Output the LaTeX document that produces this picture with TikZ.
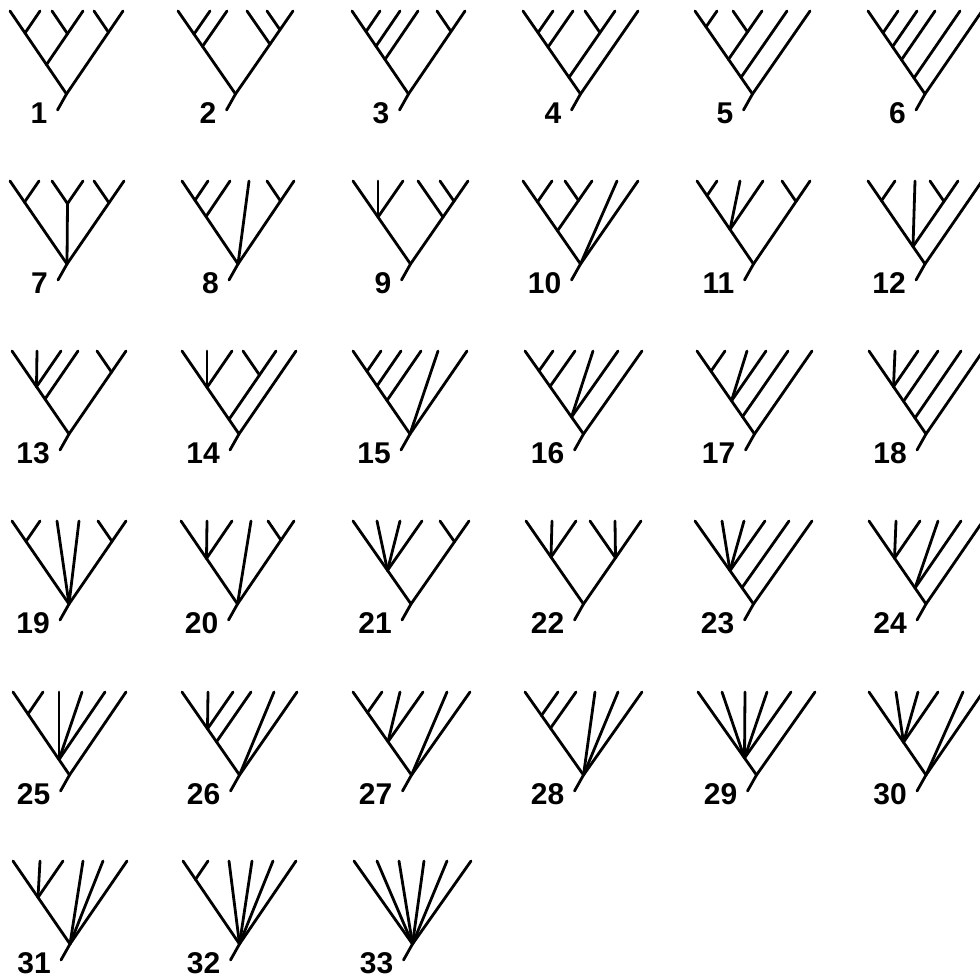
\documentclass[tikz,border=0pt]{standalone}
\usepackage{fontspec}
\setmainfont{Liberation Sans}
\usetikzlibrary{calc}
\begin{document}
\begin{tikzpicture}[x=1pt,y=-1pt,
  br/.style={line width=2.8pt,line cap=round,black},
  lab/.style={font=\bfseries\fontsize{30}{30}\selectfont,inner sep=0pt,anchor=east}]
\fill[white] (0,0) rectangle (980,978);
\useasboundingbox (0,0) rectangle (980,978);
\newcommand\Tset[3]{\def\tn{#1}\def\tx{#2}\def\ty{#3}}
\newcommand\Lv[6]{\def\xa{#1}\def\xb{#2}\def\xc{#3}\def\xd{#4}\def\xe{#5}\def\xf{#6}%
  \pgfmathsetmacro\kk{166/#6}%
  \foreach \nn/\vv in {a/#1,b/#2,c/#3,d/#4,e/#5,f/#6}{\coordinate (t\tn\nn) at (\tx+\vv,\ty);}}
\newcommand\nd[3]{\coordinate (t\tn#1) at ({\tx+(\csname x#2\endcsname+\csname x#3\endcsname)/2},{\ty+(\csname x#3\endcsname-\csname x#2\endcsname)*\kk/2});}
\newcommand\Ed[1]{\foreach \cc/\pp in {#1}{\draw[br] (t\tn\cc) -- (t\tn\pp);}}
\newcommand\St{\draw[br] (t\tn r) -- ++(-9,16) coordinate (t\tn s);
  \node[lab] (t\tn l) at ($(t\tn s)+(-10,3)$) {\tn};}
% row 1
\Tset{1}{10}{11}\Lv{0}{30}{42}{73}{84}{113}
\nd{ab}{a}{b}\nd{cd}{c}{d}\nd{ad}{a}{d}\nd{ef}{e}{f}\nd{r}{a}{f}
\Ed{a/ab,b/ab,c/cd,d/cd,ab/ad,cd/ad,e/ef,f/ef,ad/r,ef/r}\St
\Tset{2}{178}{11}\Lv{0}{32}{49}{69}{89}{115}
\nd{ab}{a}{b}\nd{ac}{a}{c}\nd{ef}{e}{f}\nd{df}{d}{f}\nd{r}{a}{f}
\Ed{a/ab,b/ab,ab/ac,c/ac,ac/r,e/ef,f/ef,d/df,ef/df,df/r}\St
\Tset{3}{352}{11}\Lv{0}{28}{48}{66}{85}{113}
\nd{ab}{a}{b}\nd{ac}{a}{c}\nd{ad}{a}{d}\nd{ef}{e}{f}\nd{r}{a}{f}
\Ed{a/ab,b/ab,ab/ac,c/ac,ac/ad,d/ad,ad/r,e/ef,f/ef,ef/r}\St
\Tset{4}{523}{11}\Lv{0}{30}{50}{62}{92}{115}
\nd{ab}{a}{b}\nd{ac}{a}{c}\nd{de}{d}{e}\nd{ae}{a}{e}\nd{r}{a}{f}
\Ed{a/ab,b/ab,ab/ac,c/ac,d/de,e/de,ac/ae,de/ae,ae/r,f/r}\St
\Tset{5}{695}{11}\Lv{0}{22}{38}{67}{92}{115}
\nd{ab}{a}{b}\nd{cd}{c}{d}\nd{ad}{a}{d}\nd{ae}{a}{e}\nd{r}{a}{f}
\Ed{a/ab,b/ab,c/cd,d/cd,ab/ad,cd/ad,ad/ae,e/ae,ae/r,f/r}\St
\Tset{6}{868}{11}\Lv{0}{30}{49}{67}{92}{114}
\nd{ab}{a}{b}\nd{ac}{a}{c}\nd{ad}{a}{d}\nd{ae}{a}{e}\nd{r}{a}{f}
\Ed{a/ab,b/ab,ab/ac,c/ac,ac/ad,d/ad,ad/ae,e/ae,ae/r,f/r}\St
% row 2
\Tset{7}{10}{181}\Lv{0}{29}{42}{73}{84}{114}
\nd{ab}{a}{b}\nd{cd}{c}{d}\nd{ef}{e}{f}\nd{r}{a}{f}
\Ed{a/ab,b/ab,c/cd,d/cd,e/ef,f/ef,ab/r,cd/r,ef/r}\St
\Tset{8}{182}{181}\Lv{0}{26}{48}{67}{85}{112}
\nd{ab}{a}{b}\nd{ac}{a}{c}\nd{ef}{e}{f}\nd{r}{a}{f}
\Ed{a/ab,b/ab,ab/ac,c/ac,ac/r,d/r,e/ef,f/ef,ef/r}\St
\Tset{9}{353}{181}\Lv{0}{25}{50}{65}{87}{115}
\nd{ac}{a}{c}\nd{ef}{e}{f}\nd{df}{d}{f}\nd{r}{a}{f}
\Ed{a/ac,b/ac,c/ac,e/ef,f/ef,d/df,ef/df,ac/r,df/r}\St
\Tset{10}{523}{181}\Lv{0}{29}{42}{69}{94}{115}
\nd{ab}{a}{b}\nd{cd}{c}{d}\nd{ad}{a}{d}\nd{r}{a}{f}
\Ed{a/ab,b/ab,c/cd,d/cd,ab/ad,cd/ad,ad/r,e/r,f/r}\St
\Tset{11}{697}{181}\Lv{0}{20}{43}{66}{85}{113}
\nd{ab}{a}{b}\nd{ad}{a}{d}\nd{ef}{e}{f}\nd{r}{a}{f}
\Ed{a/ab,b/ab,ab/ad,c/ad,d/ad,ad/r,e/ef,f/ef,ef/r}\St
\Tset{12}{868}{181}\Lv{0}{27}{47}{62}{90}{114}
\nd{ab}{a}{b}\nd{de}{d}{e}\nd{ae}{a}{e}\nd{r}{a}{f}
\Ed{a/ab,b/ab,d/de,e/de,ab/ae,c/ae,de/ae,ae/r,f/r}\St
% row 3
\Tset{13}{12}{351}\Lv{0}{25}{49}{66}{85}{114}
\nd{ac}{a}{c}\nd{ad}{a}{d}\nd{ef}{e}{f}\nd{r}{a}{f}
\Ed{a/ac,b/ac,c/ac,ac/ad,d/ad,ad/r,e/ef,f/ef,ef/r}\St
\Tset{14}{182}{351}\Lv{0}{25}{50}{61}{94}{114}
\nd{ac}{a}{c}\nd{de}{d}{e}\nd{ae}{a}{e}\nd{r}{a}{f}
\Ed{a/ac,b/ac,c/ac,d/de,e/de,ac/ae,de/ae,ae/r,f/r}\St
\Tset{15}{353}{351}\Lv{0}{28}{48}{68}{85}{114}
\nd{ab}{a}{b}\nd{ac}{a}{c}\nd{ad}{a}{d}\nd{r}{a}{f}
\Ed{a/ab,b/ab,ab/ac,c/ac,ac/ad,d/ad,ad/r,e/r,f/r}\St
\Tset{16}{525}{351}\Lv{0}{28}{50}{68}{93}{117}
\nd{ab}{a}{b}\nd{ac}{a}{c}\nd{ae}{a}{e}\nd{r}{a}{f}
\Ed{a/ab,b/ab,ab/ac,c/ac,ac/ae,d/ae,e/ae,ae/r,f/r}\St
\Tset{17}{697}{351}\Lv{0}{28}{50}{69}{91}{115}
\nd{ab}{a}{b}\nd{ad}{a}{d}\nd{ae}{a}{e}\nd{r}{a}{f}
\Ed{a/ab,b/ab,ab/ad,c/ad,d/ad,ad/ae,e/ae,ae/r,f/r}\St
\Tset{18}{869}{351}\Lv{0}{26}{49}{69}{92}{114}
\nd{ac}{a}{c}\nd{ad}{a}{d}\nd{ae}{a}{e}\nd{r}{a}{f}
\Ed{a/ac,b/ac,c/ac,ac/ad,d/ad,ad/ae,e/ae,ae/r,f/r}\St
% row 4
\Tset{19}{12}{521}\Lv{0}{28}{45}{67}{86}{114}
\nd{ab}{a}{b}\nd{ef}{e}{f}\nd{r}{a}{f}
\Ed{a/ab,b/ab,ab/r,c/r,d/r,e/ef,f/ef,ef/r}\St
\Tset{20}{181}{521}\Lv{0}{26}{51}{70}{87}{113}
\nd{ac}{a}{c}\nd{ef}{e}{f}\nd{r}{a}{f}
\Ed{a/ac,b/ac,c/ac,ac/r,d/r,e/ef,f/ef,ef/r}\St
\Tset{21}{353}{521}\Lv{0}{24}{47}{69}{87}{116}
\nd{ad}{a}{d}\nd{ef}{e}{f}\nd{r}{a}{f}
\Ed{a/ad,b/ad,c/ad,d/ad,ad/r,e/ef,f/ef,ef/r}\St
\Tset{22}{526}{521}\Lv{0}{26}{50}{64}{89}{115}
\nd{ac}{a}{c}\nd{df}{d}{f}\nd{r}{a}{f}
\Ed{a/ac,b/ac,c/ac,d/df,e/df,f/df,ac/r,df/r}\St
\Tset{23}{695}{521}\Lv{0}{27}{49}{70}{94}{117}
\nd{ad}{a}{d}\nd{ae}{a}{e}\nd{r}{a}{f}
\Ed{a/ad,b/ad,c/ad,d/ad,ad/ae,e/ae,ae/r,f/r}\St
\Tset{24}{869}{521}\Lv{0}{27}{51}{69}{92}{114}
\nd{ac}{a}{c}\nd{ae}{a}{e}\nd{r}{a}{f}
\Ed{a/ac,b/ac,c/ac,ac/ae,d/ae,e/ae,ae/r,f/r}\St
% row 5
\Tset{25}{13}{692}\Lv{0}{30}{46}{69}{92}{113}
\nd{ab}{a}{b}\nd{ae}{a}{e}\nd{r}{a}{f}
\Ed{a/ab,b/ab,ab/ae,c/ae,d/ae,e/ae,ae/r,f/r}\St
\Tset{26}{182}{692}\Lv{0}{26}{51}{69}{92}{115}
\nd{ac}{a}{c}\nd{ad}{a}{d}\nd{r}{a}{f}
\Ed{a/ac,b/ac,c/ac,ac/ad,d/ad,ad/r,e/r,f/r}\St
\Tset{27}{353}{692}\Lv{0}{29}{47}{70}{94}{117}
\nd{ab}{a}{b}\nd{ad}{a}{d}\nd{r}{a}{f}
\Ed{a/ab,b/ab,ab/ad,c/ad,d/ad,ad/r,e/r,f/r}\St
\Tset{28}{525}{692}\Lv{0}{33}{51}{70}{93}{117}
\nd{ab}{a}{b}\nd{ac}{a}{c}\nd{r}{a}{f}
\Ed{a/ab,b/ab,ab/ac,c/ac,ac/r,d/r,e/r,f/r}\St
\Tset{29}{698}{692}\Lv{0}{24}{47}{69}{93}{117}
\nd{ae}{a}{e}\nd{r}{a}{f}
\Ed{a/ae,b/ae,c/ae,d/ae,e/ae,ae/r,f/r}\St
\Tset{30}{869}{692}\Lv{0}{27}{49}{69}{94}{114}
\nd{ad}{a}{d}\nd{r}{a}{f}
\Ed{a/ad,b/ad,c/ad,d/ad,ad/r,e/r,f/r}\St
% row 6
\Tset{31}{13}{861}\Lv{0}{27}{50}{70}{90}{114}
\nd{ac}{a}{c}\nd{r}{a}{f}
\Ed{a/ac,b/ac,c/ac,ac/r,d/r,e/r,f/r}\St
\Tset{32}{183}{861}\Lv{0}{25}{46}{69}{90}{113}
\nd{ab}{a}{b}\nd{r}{a}{f}
\Ed{a/ab,b/ab,ab/r,c/r,d/r,e/r,f/r}\St
\Tset{33}{354}{861}\Lv{0}{23}{45}{70}{93}{117}
\nd{r}{a}{f}
\Ed{a/r,b/r,c/r,d/r,e/r,f/r}\St
\end{tikzpicture}
\end{document}
